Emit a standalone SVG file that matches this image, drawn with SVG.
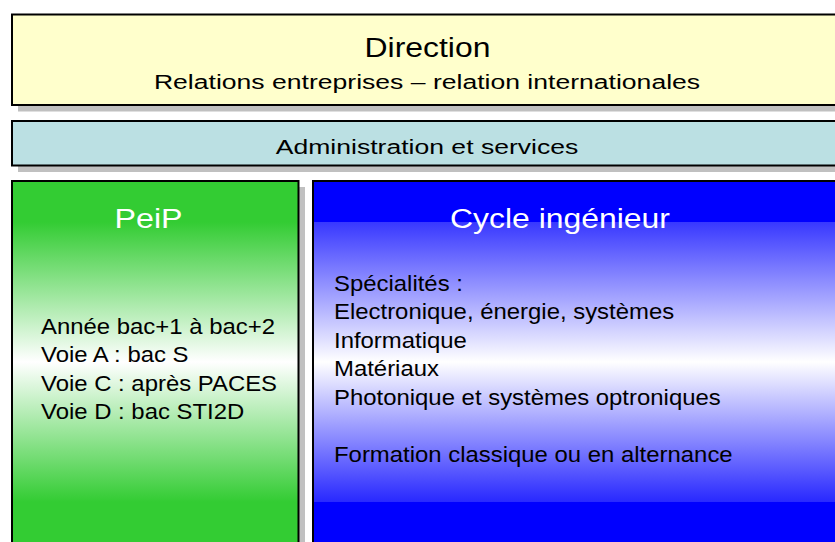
<svg xmlns="http://www.w3.org/2000/svg" width="835" height="542" viewBox="0 0 835 542">
<style>
.t{font-family:"Liberation Sans",Arial,sans-serif;fill:#000}
.box{stroke:#000;stroke-width:2}
.sh{fill:#C0C0C0}
.w{fill:#fff}
.b{font-size:22px}
</style>
<defs>
<linearGradient id="gg" gradientUnits="userSpaceOnUse" x1="0" y1="181" x2="0" y2="542">
<stop offset="0" stop-color="#33CC33"/>
<stop offset="0.1136" stop-color="#33CC33"/>
<stop offset="0.501" stop-color="#FFFFFF"/>
<stop offset="0.889" stop-color="#33CC33"/>
<stop offset="1" stop-color="#33CC33"/>
</linearGradient>
<linearGradient id="bg" gradientUnits="userSpaceOnUse" x1="0" y1="181" x2="0" y2="542">
<stop offset="0" stop-color="#0000FF"/>
<stop offset="0.1136" stop-color="#0000FF"/>
<stop offset="0.1136" stop-color="#3838FF"/>
<stop offset="0.501" stop-color="#FFFFFF"/>
<stop offset="0.889" stop-color="#2828FF"/>
<stop offset="0.889" stop-color="#0000FF"/>
<stop offset="1" stop-color="#0000FF"/>
</linearGradient>
</defs>
<rect width="835" height="542" fill="#fff"/>
<g id="direction">
<rect class="sh" x="18" y="20.5" width="840" height="91"/>
<rect class="box" x="12" y="14.5" width="840" height="90.5" fill="#FFFFCC"/>
<text class="t" transform="translate(427.5,57) scale(1.14,1)" x="0" y="0" font-size="28" text-anchor="middle">Direction</text>
<text class="t" transform="translate(427,89) scale(1.265,1)" x="0" y="0" font-size="21" text-anchor="middle">Relations entreprises – relation internationales</text>
</g>
<g id="administration">
<rect class="sh" x="18" y="127" width="840" height="45"/>
<rect class="box" x="12" y="121" width="840" height="44.5" fill="#BBE0E3"/>
<text class="t" transform="translate(427,154) scale(1.265,1)" x="0" y="0" font-size="21" text-anchor="middle">Administration et services</text>
</g>
<g id="peip">
<rect class="sh" x="18" y="187" width="287" height="380"/>
<rect class="box" x="12" y="181" width="286.5" height="380" fill="url(#gg)"/>
<text class="t w" transform="translate(148.5,228) scale(1.15,1)" x="0" y="0" font-size="28" text-anchor="middle">PeiP</text>
<g transform="translate(41,0) scale(1.087,1)">
<text class="t b" x="0" y="334">Année bac+1 à bac+2</text>
<text class="t b" x="0" y="362.5">Voie A : bac S</text>
<text class="t b" x="0" y="391">Voie C : après PACES</text>
<text class="t b" x="0" y="419.5">Voie D : bac STI2D</text>
</g>
</g>
<g id="cycle">
<rect class="box" x="313" y="181" width="540" height="380" fill="url(#bg)"/>
<text class="t w" transform="translate(560,228) scale(1.14,1)" x="0" y="0" font-size="28" text-anchor="middle">Cycle ingénieur</text>
<g transform="translate(334,0) scale(1.087,1)">
<text class="t b" x="0" y="291">Spécialités :</text>
<text class="t b" x="0" y="319">Electronique, énergie, systèmes</text>
<text class="t b" x="0" y="348">Informatique</text>
<text class="t b" x="0" y="376">Matériaux</text>
<text class="t b" x="0" y="405">Photonique et systèmes optroniques</text>
<text class="t b" x="0" y="462">Formation classique ou en alternance</text>
</g>
</g>
<g id="connectors"/>
</svg>
